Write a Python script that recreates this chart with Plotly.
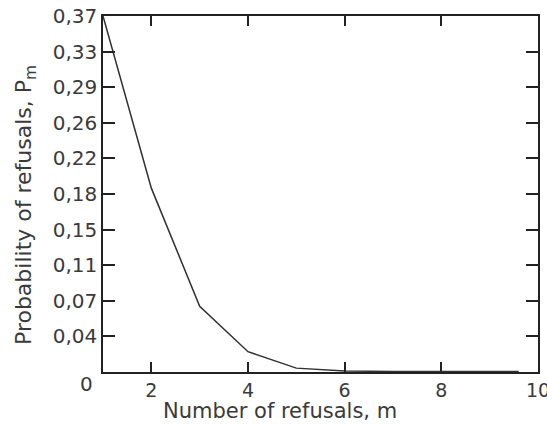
import plotly.graph_objects as go

m_values = [1, 2, 3, 4, 5, 6, 7, 8, 9, 9.6]
p_values = [0.3679, 0.19, 0.068, 0.021, 0.004, 0.001, 0.0006, 0.0005, 0.0005, 0.0005]

y_tick_vals = [0.03679 * k for k in range(1, 11)]
y_tick_text = ["0,04", "0,07", "0,11", "0,15", "0,18", "0,22", "0,26", "0,29", "0,33", "0,37"]
x_tick_vals = [2, 4, 6, 8, 10]
x_tick_text = ["2", "4", "6", "8", "10"]

font_family = "DejaVu Sans, Liberation Sans, sans-serif"
txt_color = "#3a3a3a"

W, H = 547, 425
L, R, T, B = 103, 9, 16, 53
pw, ph = W - L - R, H - T - B

fig = go.Figure()
fig.add_trace(go.Scatter(
    x=m_values, y=p_values, mode="lines",
    line=dict(color="#303030", width=1.5),
    showlegend=False, hoverinfo="skip",
))

fig.update_layout(
    width=W, height=H,
    margin=dict(l=L, r=R, t=T, b=B, autoexpand=False),
    paper_bgcolor="white", plot_bgcolor="white",
    font=dict(family=font_family, size=20, color=txt_color),
    xaxis=dict(
        range=[1, 10], tickvals=x_tick_vals, ticktext=x_tick_text,
        ticks="inside", ticklen=10, tickwidth=1.5, tickcolor="#222",
        showline=True, linecolor="#222", linewidth=1.5, mirror="allticks",
        showgrid=False, zeroline=False, automargin=False,
        tickfont=dict(size=19, color=txt_color), ticklabelstandoff=0,
        ticklabeloverflow="allow",
    ),
    yaxis=dict(
        range=[0, 0.3679], tickvals=y_tick_vals, ticktext=y_tick_text,
        ticks="inside", ticklen=12, tickwidth=1.5, tickcolor="#222",
        showline=True, linecolor="#222", linewidth=1.5, mirror="allticks",
        showgrid=False, zeroline=False, automargin=False,
        tickfont=dict(size=20, color=txt_color),
        ticklabeloverflow="allow",
    ),
    annotations=[
        dict(text="0", xref="paper", yref="paper", x=(86 - L) / pw, y=(H - B - 384) / ph,
             xanchor="center", yanchor="middle", showarrow=False,
             font=dict(size=20, color=txt_color)),
        dict(text="Number of refusals, m", xref="paper", yref="paper",
             x=(280 - L) / pw, y=(H - B - 411) / ph,
             xanchor="center", yanchor="middle", showarrow=False,
             font=dict(size=21, color=txt_color)),
        dict(text="Probability of refusals, P<sub>m</sub>", xref="paper", yref="paper",
             x=(25 - L) / pw, y=(H - B - 205) / ph, textangle=-90,
             xanchor="center", yanchor="middle", showarrow=False,
             font=dict(size=22, color=txt_color)),
    ],
)

fig.write_html(
    "out.html",
    config={"displayModeBar": False},
    post_script="document.body.style.margin='0';document.body.style.overflow='hidden';",
)
